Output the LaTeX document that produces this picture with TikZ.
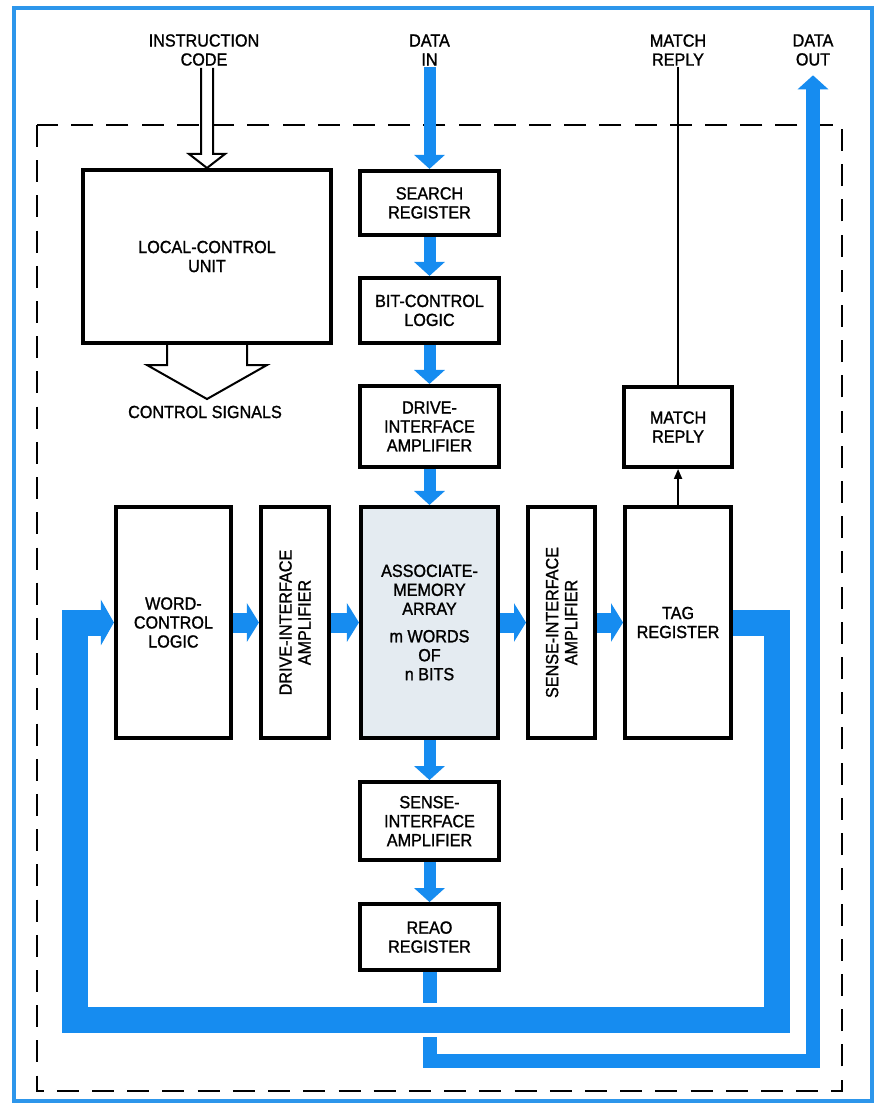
\documentclass[tikz,border=0pt]{standalone}
\usepackage{fontspec}
\setmainfont{Liberation Sans}[FakeStretch=0.92, FakeBold=1.2]
\usetikzlibrary{arrows.meta,positioning,calc}
\definecolor{flowblue}{RGB}{22,140,240}
\definecolor{arrayfill}{RGB}{228,235,241}
\definecolor{edgeblue}{RGB}{45,150,235}

\begin{document}
\begin{tikzpicture}[
    x=0.025cm, y=-0.025cm,
    box/.style={rectangle, draw, line width=0.1cm, fill=white, align=center, font=\fontsize{12.5}{13.5}\selectfont},
    colbox/.style={box, minimum width=3.45cm},
    rowbox/.style={box, minimum height=5.775cm},
    lbl/.style={align=center, font=\fontsize{12.5}{13.5}\selectfont, inner sep=1pt},
    vflow/.style={flowblue, line width=0.3cm, -{Triangle[length=0.35cm, width=0.75cm]}},
    hflow/.style={flowblue, line width=0.5cm, -{Triangle[length=0.3cm, width=0.95cm]}},
    feedback/.style={flowblue, line width=0.65cm, line join=miter, -{Triangle[length=0.325cm, width=1.125cm]}},
    outflow/.style={flowblue, line width=0.35cm, line join=miter, -{Triangle[length=0.35cm, width=0.75cm]}},
    hollow/.style={draw, line width=0.05cm, fill=white, line join=miter},
    reply/.style={line width=0.05cm},
    replyarrow/.style={line width=0.05cm, -{Triangle[length=0.25cm, width=0.2cm]}},
    frame/.style={line width=0.06cm, dash pattern=on 0.55cm off 0.33cm},
    pageborder/.style={edgeblue, line width=0.1cm},
    mask/.style={white, line width=0.85cm},
    node distance=0.975cm
]
\fill[white] (0,0) rectangle (879,1107);
\useasboundingbox (0,0) rectangle (879,1107);
\draw[pageborder] (14,8) rectangle (872,1101);
\draw[frame] (37,125) rectangle (842,1091);

\node[rowbox, fill=arrayfill, minimum width=3.425cm] (array) at (429.5,622.5) {ASSOCIATE-\\MEMORY\\ARRAY\\[6pt]m WORDS\\OF\\n BITS};
\node[rowbox, minimum width=1.7cm, left=0.7cm of array] (drvamp) {};
\node[rowbox, minimum width=2.875cm, left=0.65cm of drvamp] (word) {WORD-\\CONTROL\\LOGIC};
\node[rowbox, minimum width=1.675cm, right=0.65cm of array] (senseamp) {};
\node[rowbox, minimum width=2.65cm, right=0.65cm of senseamp] (tag) {TAG\\REGISTER};
\node[lbl, rotate=90] at (drvamp) {DRIVE-INTERFACE\\AMPLIFIER};
\node[lbl, rotate=90] at (senseamp) {SENSE-INTERFACE\\AMPLIFIER};

\node[colbox, minimum height=2.025cm, above=0.9cm of array] (drvin) {DRIVE-\\INTERFACE\\AMPLIFIER};
\node[colbox, minimum height=1.625cm, above=of drvin] (bit) {BIT-CONTROL\\LOGIC};
\node[colbox, minimum height=1.6cm, above=of bit] (search) {SEARCH\\REGISTER};
\node[colbox, minimum height=1.95cm, below=1cm of array] (sensein) {SENSE-\\INTERFACE\\AMPLIFIER};
\node[colbox, minimum height=1.65cm, below=1cm of sensein] (read) {REAO\\REGISTER};

\node[box, minimum width=6.2cm, minimum height=4.325cm] (local) at (207,256.5) {LOCAL-CONTROL\\UNIT};
\node[box, minimum width=2.7cm, minimum height=2cm, above=0.9cm of tag] (match) {MATCH\\REPLY};

\node[lbl] (icode) at (204,50) {INSTRUCTION\\CODE};
\node[lbl] (datain) at (429.5,50) {DATA\\IN};
\node[lbl] (mreply) at (678,50) {MATCH\\REPLY};
\node[lbl] (dataout) at (813,50) {DATA\\OUT};
\node[lbl] (ctrl) at (205,412) {CONTROL SIGNALS};

\draw[hollow] (local.north) ++(-6,-100) -- ++(0,86) -- ++(-12,0) -- (local.north) -- ++(18,-14) -- ++(-12,0) -- ++(0,-86);
\draw[hollow] (local.south) ++(-40,0) -- ++(0,20) -- ++(-20,0) -- ++(60,34) -- ++(60,-34) -- ++(-20,0) -- ++(0,-20);

\draw[vflow] (datain.south) -- (search.north);
\draw[vflow] (search) -- (bit);
\draw[vflow] (bit) -- (drvin);
\draw[vflow] (drvin) -- (array);
\draw[vflow] (array) -- (sensein);
\draw[vflow] (sensein) -- (read);

\draw[hflow] (word) -- (drvamp);
\draw[hflow] (drvamp) -- (array);
\draw[hflow] (array) -- (senseamp);
\draw[hflow] (senseamp) -- (tag);

\draw[replyarrow] (tag) -- (match);
\draw[reply] (match.north) -- (match.north |- mreply.south);

\coordinate (outcorner) at (813,1061);
\draw[outflow, shorten >=0.2cm] (read.south) |- (outcorner) -- (dataout.south);

\coordinate (loopse) at (777,1020);
\coordinate (loopsw) at (75,1020);
\draw[mask] (loopsw) -- (loopse);
\draw[feedback] (tag.east) -| (loopse) -- (loopsw) |- (word.west);
\end{tikzpicture}
\end{document}
